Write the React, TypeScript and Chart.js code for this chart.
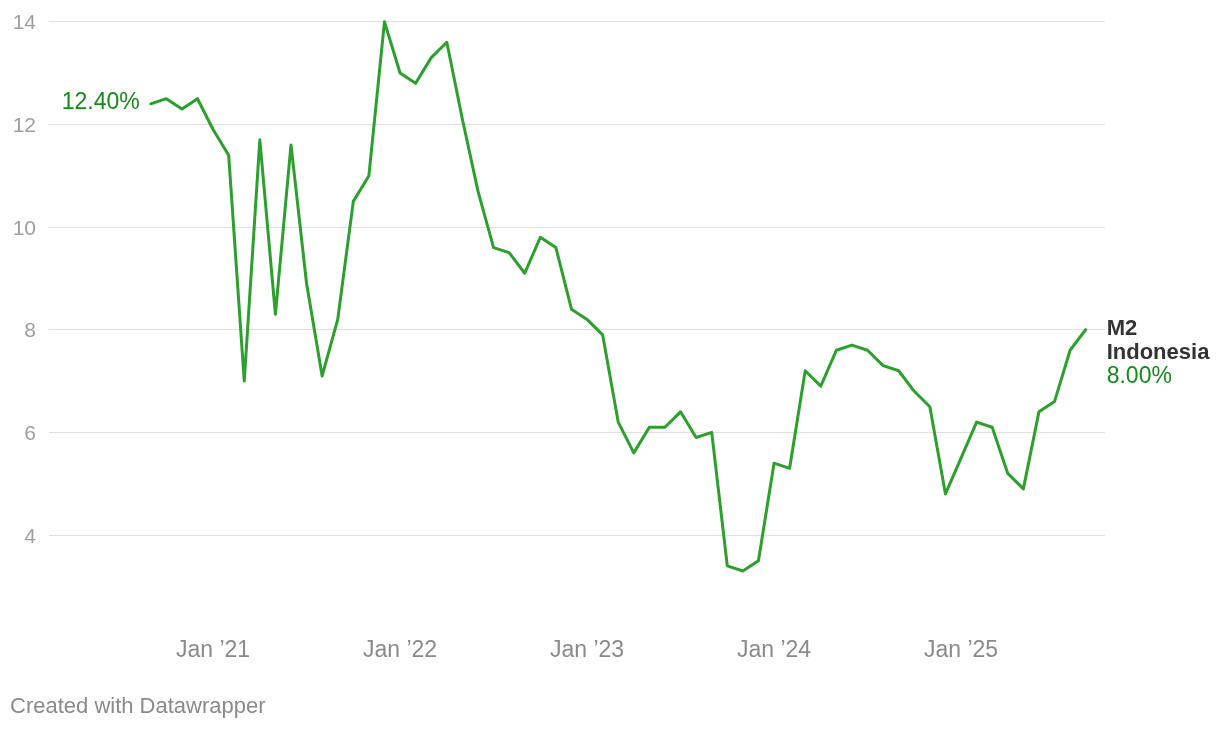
import React, { useEffect, useRef } from "react";
import { Chart, registerables } from "chart.js";

Chart.register(...registerables);

const months: string[] = [
  "Sep 2020", "Oct 2020", "Nov 2020", "Dec 2020",
  "Jan 2021", "Feb 2021", "Mar 2021", "Apr 2021", "May 2021", "Jun 2021", "Jul 2021", "Aug 2021", "Sep 2021", "Oct 2021", "Nov 2021", "Dec 2021",
  "Jan 2022", "Feb 2022", "Mar 2022", "Apr 2022", "May 2022", "Jun 2022", "Jul 2022", "Aug 2022", "Sep 2022", "Oct 2022", "Nov 2022", "Dec 2022",
  "Jan 2023", "Feb 2023", "Mar 2023", "Apr 2023", "May 2023", "Jun 2023", "Jul 2023", "Aug 2023", "Sep 2023", "Oct 2023", "Nov 2023", "Dec 2023",
  "Jan 2024", "Feb 2024", "Mar 2024", "Apr 2024", "May 2024", "Jun 2024", "Jul 2024", "Aug 2024", "Sep 2024", "Oct 2024", "Nov 2024", "Dec 2024",
  "Jan 2025", "Feb 2025", "Mar 2025", "Apr 2025", "May 2025", "Jun 2025", "Jul 2025", "Aug 2025", "Sep 2025",
];

const m2Growth: number[] = [
  12.4, 12.5, 12.3, 12.5,
  11.9, 11.4, 7.0, 11.7, 8.3, 11.6, 8.9, 7.1, 8.2, 10.5, 11.0, 14.0,
  13.0, 12.8, 13.3, 13.6, 12.1, 10.7, 9.6, 9.5, 9.1, 9.8, 9.6, 8.4,
  8.2, 7.9, 6.2, 5.6, 6.1, 6.1, 6.4, 5.9, 6.0, 3.4, 3.3, 3.5,
  5.4, 5.3, 7.2, 6.9, 7.6, 7.7, 7.6, 7.3, 7.2, 6.8, 6.5, 4.8,
  5.5, 6.2, 6.1, 5.2, 4.9, 6.4, 6.6, 7.6, 8.0,
];

const xTickIndices: number[] = [4, 16, 28, 40, 52];
const xTickLabels: string[] = ["Jan \u201921", "Jan \u201922", "Jan \u201923", "Jan \u201924", "Jan \u201925"];
const yTickValues: number[] = [4, 6, 8, 10, 12, 14];
const seriesName: string[] = ["M2", "Indonesia"];
const footerText = "Created with Datawrapper";

const LINE_GREEN = "#2ca02c";
const TEXT_GREEN = "#15891a";
const FONT = "'Liberation Sans', Arial, Helvetica, sans-serif";

export default function App() {
  const canvasRef = useRef<HTMLCanvasElement | null>(null);

  useEffect(() => {
    const canvas = canvasRef.current;
    if (!canvas) return;

    const labelPlugin = {
      id: "dwLabels",
      afterDatasetsDraw(chart: any) {
        const ctx = chart.ctx;
        const meta = chart.getDatasetMeta(0);
        const pts = meta.data;
        if (!pts || pts.length === 0) return;
        const first = pts[0];
        const last = pts[pts.length - 1];
        ctx.save();
        // y-axis tick labels
        const yScale = chart.scales.y;
        ctx.font = `21px ${FONT}`;
        ctx.fillStyle = "#9e9e9e";
        ctx.textAlign = "right";
        ctx.textBaseline = "middle";
        yTickValues.forEach((v) => {
          ctx.fillText(String(v), chart.chartArea.left - 13, yScale.getPixelForValue(v) + 2);
        });
        // start label
        ctx.font = `23px ${FONT}`;
        ctx.textAlign = "right";
        ctx.fillStyle = TEXT_GREEN;
        ctx.fillText(`${m2Growth[0].toFixed(2)}%`, first.x - 11, first.y - 1);
        // end label
        ctx.textAlign = "left";
        const lx = last.x + 21;
        ctx.font = `bold 22px ${FONT}`;
        ctx.fillStyle = "#333333";
        ctx.fillText(seriesName[0], lx, last.y - 1);
        ctx.fillText(seriesName[1], lx, last.y + 23);
        ctx.font = `23px ${FONT}`;
        ctx.fillStyle = TEXT_GREEN;
        ctx.fillText(`${m2Growth[m2Growth.length - 1].toFixed(2)}%`, lx, last.y + 47);
        ctx.restore();
      },
      afterDraw(chart: any) {
        const ctx = chart.ctx;
        ctx.save();
        ctx.font = `22px ${FONT}`;
        ctx.fillStyle = "#8a8a8a";
        ctx.textAlign = "left";
        ctx.textBaseline = "middle";
        ctx.fillText(footerText, 10, 707);
        ctx.restore();
      },
    };

    const chart = new Chart(canvas, {
      type: "line",
      data: {
        labels: months,
        datasets: [
          {
            label: seriesName.join(" "),
            data: m2Growth.map((v, i) => ({ x: i, y: v })),
            borderColor: LINE_GREEN,
            borderWidth: 3,
            pointRadius: 0,
            tension: 0,
            fill: false,
            borderJoinStyle: "round",
            borderCapStyle: "round",
          } as any,
        ],
      },
      options: {
        responsive: false,
        animation: false,
        events: [],
        layout: { padding: { top: 6.3, right: 115, bottom: 52.3, left: 0 } },
        plugins: {
          legend: { display: false },
          tooltip: { enabled: false },
        },
        scales: {
          x: {
            type: "linear",
            min: -6.53,
            max: 61.24,
            grid: { display: false, drawTicks: false },
            border: { display: false },
            afterBuildTicks: (scale: any) => {
              scale.ticks = xTickIndices.map((v) => ({ value: v }));
            },
            afterFit: (scale: any) => {
              scale.height = 40;
            },
            ticks: {
              autoSkip: false,
              maxRotation: 0,
              padding: -1,
              color: "#8a8a8a",
              font: { family: FONT, size: 23 },
              callback: (value: any) => {
                const idx = xTickIndices.indexOf(Number(value));
                return idx >= 0 ? xTickLabels[idx] : "";
              },
            },
          },
          y: {
            type: "linear",
            min: 2,
            max: 14.3,
            grid: { color: "#e0e0e0", lineWidth: 1, drawTicks: false },
            border: { display: false },
            afterBuildTicks: (scale: any) => {
              scale.ticks = yTickValues.map((v) => ({ value: v }));
            },
            afterFit: (scale: any) => {
              scale.width = 49;
              scale.paddingTop = 0;
              scale.paddingBottom = 0;
            },
            ticks: {
              display: false,
              padding: 13,
              font: { family: FONT, size: 21, lineHeight: 0.2 },
            },
          },
        },
      } as any,
      plugins: [labelPlugin],
    });

    return () => {
      chart.destroy();
    };
  }, []);

  return (
    <div style={{ position: "fixed", left: 0, top: 0, width: 1220, height: 730, background: "#ffffff" }}>
      <canvas ref={canvasRef} width={1220} height={730} style={{ display: "block", width: 1220, height: 730 }} />
    </div>
  );
}
